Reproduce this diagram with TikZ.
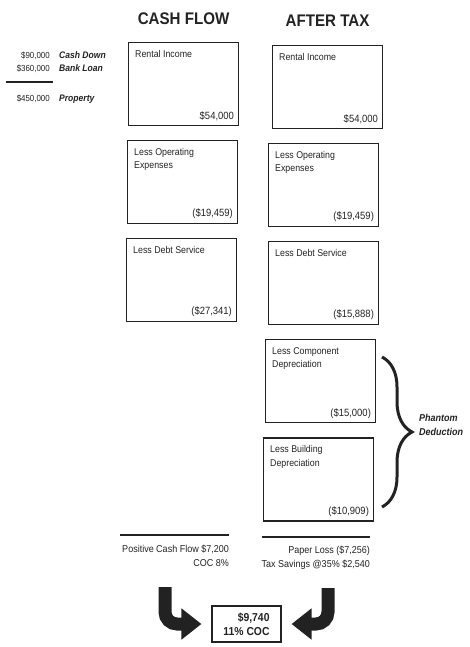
\documentclass[tikz,border=0pt]{standalone}
\usepackage{fontspec}
\setmainfont{Liberation Sans}[FakeStretch=0.9]
\usepackage{tikz}
\usetikzlibrary{positioning,decorations.pathreplacing,arrows.meta}

\definecolor{ink}{HTML}{222222}

\tikzset{
  box/.style={draw=ink, line width=1.1pt, minimum width=110pt, minimum height=83pt,
    inner sep=0pt, anchor=north west},
  boxtext/.style={inner sep=0pt, anchor=north west, align=left, text=ink,
    font=\fontsize{9.8}{13.5}\selectfont},
  boxamt/.style={inner sep=0pt, anchor=south east, text=ink,
    font=\fontsize{10.5}{12}\selectfont},
  header/.style={inner sep=0pt, text=ink, font=\bfseries\fontsize{16.8}{18}\selectfont},
  amt/.style={inner sep=0pt, anchor=east, text=ink, font=\fontsize{8.8}{10}\selectfont},
  tag/.style={inner sep=0pt, text=ink, font=\bfseries\itshape\fontsize{9.5}{11}\selectfont},
  rule/.style={draw=ink, line width=1.5pt},
  sumtext/.style={inner sep=0pt, align=right, text=ink, font=\fontsize{10}{13.5}\selectfont},
  bigarrow/.style={draw=ink, line width=13pt, rounded corners=12pt,
    -{Triangle[length=20pt,width=30pt]}},
  phantombrace/.style={draw=ink, line width=3pt, decorate,
    decoration={brace, amplitude=30pt}}
}

\begin{document}
\begin{tikzpicture}[x=1pt, y=-1pt]
  \useasboundingbox (0,0) rectangle (469,647);

  % purchase
  \node[amt] (down) at (50,56) {\$90,000};
  \node[tag, base right=9pt of down] (downtag) {Cash Down};
  \node[amt] (loan) at (50,69) {\$360,000};
  \node[tag, base right=9pt of loan] (loantag) {Bank Loan};
  \coordinate (suml) at (6,82);
  \coordinate (sumr) at (53,82);
  \draw[rule] (suml) -- (sumr);
  \node[amt] (prop) at (50,99) {\$450,000};
  \node[tag, base right=9pt of prop] (proptag) {Property};

  % cash flow column
  \node[box] (cf1) at (128,42) {};
  \node[box, below=14pt of cf1, xshift=-1pt] (cf2) {};
  \node[box, below=14pt of cf2, xshift=-1pt] (cf3) {};
  \node[header, above=17pt of cf1] (cfhead) {CASH FLOW};

  \node[boxtext] (cf1t) at ([xshift=7pt,yshift=-8pt]cf1.north west) {Rental Income};
  \node[boxamt] (cf1a) at ([xshift=-5pt,yshift=5pt]cf1.south east) {\$54,000};
  \node[boxtext] (cf2t) at ([xshift=7pt,yshift=-8pt]cf2.north west) {Less Operating\\Expenses};
  \node[boxamt] (cf2a) at ([xshift=-5pt,yshift=5pt]cf2.south east) {(\$19,459)};
  \node[boxtext] (cf3t) at ([xshift=7pt,yshift=-8pt]cf3.north west) {Less Debt Service};
  \node[boxamt] (cf3a) at ([xshift=-5pt,yshift=5pt]cf3.south east) {(\$27,341)};

  % after tax column
  \node[box] (at1) at (272,45) {};
  \node[box, below=14pt of at1, xshift=-4pt] (at2) {};
  \node[box, below=14pt of at2] (at3) {};
  \node[box, below=14pt of at3, xshift=-3pt] (at4) {};
  \node[box, below=14pt of at4, xshift=-2pt] (at5) {};
  \node[header, above=18pt of at1] (athead) {AFTER TAX};

  \node[boxtext] (at1t) at ([xshift=7pt,yshift=-8pt]at1.north west) {Rental Income};
  \node[boxamt] (at1a) at ([xshift=-5pt,yshift=5pt]at1.south east) {\$54,000};
  \node[boxtext] (at2t) at ([xshift=7pt,yshift=-8pt]at2.north west) {Less Operating\\Expenses};
  \node[boxamt] (at2a) at ([xshift=-5pt,yshift=5pt]at2.south east) {(\$19,459)};
  \node[boxtext] (at3t) at ([xshift=7pt,yshift=-8pt]at3.north west) {Less Debt Service};
  \node[boxamt] (at3a) at ([xshift=-5pt,yshift=5pt]at3.south east) {(\$15,888)};
  \node[boxtext] (at4t) at ([xshift=7pt,yshift=-8pt]at4.north west) {Less Component\\Depreciation};
  \node[boxamt] (at4a) at ([xshift=-5pt,yshift=5pt]at4.south east) {(\$15,000)};
  \node[boxtext] (at5t) at ([xshift=7pt,yshift=-8pt]at5.north west) {Less Building\\Depreciation};
  \node[boxamt] (at5a) at ([xshift=-5pt,yshift=5pt]at5.south east) {(\$10,909)};

  % phantom deduction brace
  \coordinate (brtop) at (382,357);
  \coordinate (brbot) at (382,507);
  \draw[phantombrace] (brtop) -- (brbot);
  \node[tag, anchor=west, align=left, font=\bfseries\itshape\fontsize{10}{14}\selectfont]
    (phantom) at (419,425) {Phantom\\Deduction};

  % totals
  \coordinate (cfl) at (120,535);
  \coordinate (cfr) at (229,535);
  \coordinate (atl) at (262,537);
  \coordinate (atr) at (370,537);
  \draw[rule] (cfl) -- (cfr);
  \draw[rule] (atl) -- (atr);
  \node[sumtext, below left=10pt and 0pt of cfr] (cfsum) {Positive Cash Flow \$7,200\\COC 8\%};
  \node[sumtext, below left=9pt and 0pt of atr] (atsum) {Paper Loss (\$7,256)\\Tax Savings @35\% \$2,540};

  % result
  \node[draw=ink, line width=1.1pt, minimum width=69pt, minimum height=36pt, align=right,
    text=ink, font=\bfseries\fontsize{11.5}{14}\selectfont] (res) at (246.5,624) {\$9,740\\11\% COC};
  \coordinate (cfout) at (165,587);
  \coordinate (atout) at (328,588);
  \draw[bigarrow] (cfout) |- ([xshift=-10pt]res.west);
  \draw[bigarrow] (atout) |- ([xshift=10pt]res.east);
\end{tikzpicture}
\end{document}
